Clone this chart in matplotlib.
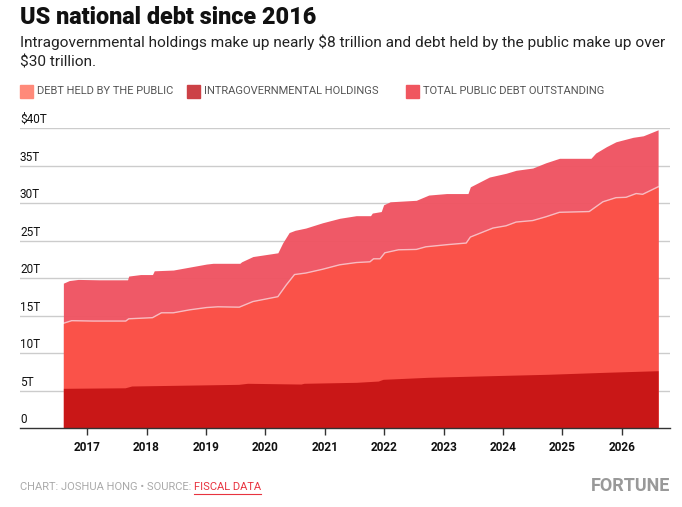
import matplotlib
matplotlib.use("Agg")
import matplotlib.pyplot as plt
import matplotlib.transforms as mtransforms

# dates as decimal years, values in trillions of dollars
total_dates = [2016.60, 2016.70, 2016.85, 2017.20, 2017.68, 2017.70, 2017.90, 2018.10, 2018.13,
               2018.45, 2018.73, 2019.01, 2019.12, 2019.57, 2019.60, 2019.79, 2020.21, 2020.29,
               2020.40, 2020.50, 2020.68, 2020.96, 2021.25, 2021.53, 2021.77, 2021.80, 2021.95,
               2021.99, 2022.10, 2022.54, 2022.75, 2023.05, 2023.41, 2023.45, 2023.77, 2024.05,
               2024.22, 2024.50, 2024.72, 2024.95, 2025.48, 2025.56, 2025.74, 2025.90, 2026.19,
               2026.36, 2026.61]
total_debt = [19.35, 19.7, 19.85, 19.8, 19.8, 20.3, 20.5, 20.5, 21.0,
              21.1, 21.5, 21.9, 22.0, 22.0, 22.2, 22.9, 23.4, 24.7,
              26.1, 26.4, 26.7, 27.4, 28.0, 28.35, 28.35, 28.7, 28.9,
              29.8, 30.2, 30.4, 31.1, 31.3, 31.3, 32.2, 33.5, 34.0,
              34.4, 34.7, 35.4, 36.0, 36.0, 36.7, 37.55, 38.2, 38.8,
              39.0, 39.8]

public_dates = [2016.60, 2016.74, 2017.10, 2017.65, 2017.70, 2018.10, 2018.25, 2018.45, 2018.73,
                2019.01, 2019.20, 2019.56, 2019.79, 2020.21, 2020.35, 2020.49, 2020.68, 2020.96,
                2021.25, 2021.53, 2021.76, 2021.82, 2021.93, 2022.01, 2022.24, 2022.54, 2022.70,
                2023.08, 2023.38, 2023.45, 2023.83, 2024.05, 2024.22, 2024.50, 2024.72, 2024.95,
                2025.45, 2025.68, 2025.90, 2026.07, 2026.24, 2026.35, 2026.61]
public_debt = [14.0, 14.35, 14.3, 14.3, 14.6, 14.75, 15.4, 15.4, 15.8,
               16.1, 16.2, 16.15, 16.9, 17.55, 19.1, 20.5, 20.7, 21.2,
               21.8, 22.1, 22.2, 22.6, 22.6, 23.4, 23.8, 23.85, 24.2,
               24.5, 24.7, 25.5, 26.7, 27.0, 27.5, 27.7, 28.2, 28.8,
               28.9, 30.2, 30.75, 30.8, 31.3, 31.2, 32.2]

intra_dates = [2016.60, 2017.64, 2017.75, 2019.55, 2019.70, 2020.60, 2020.65, 2021.53, 2021.90,
               2021.98, 2022.74, 2023.72, 2024.75, 2025.74, 2026.61]
intra_debt = [5.33, 5.4, 5.64, 5.86, 6.0, 5.9, 6.0, 6.13, 6.3,
              6.53, 6.8, 7.0, 7.2, 7.47, 7.68]

years = list(range(2017, 2027))
y_ticks = [0, 5, 10, 15, 20, 25, 30, 35, 40]
y_labels = ["0", "5T", "10T", "15T", "20T", "25T", "30T", "35T", "$40T"]

legend_labels = ["DEBT HELD BY THE PUBLIC", "INTRAGOVERNMENTAL HOLDINGS", "TOTAL PUBLIC DEBT OUTSTANDING"]
legend_colors = ["#FF8A7A", "#CC4146", "#F0565F"]

W, H = 682, 507
plt.rcParams["font.family"] = ["Roboto", "DejaVu Sans"]

fig = plt.figure(figsize=(W / 100, H / 100), dpi=100)


def px(x, y):
    return x / W, 1 - y / H


# plot area
l, r, t, b = 20, 670, 128.3, 428.3
ax = fig.add_axes([l / W, 1 - b / H, (r - l) / W, (b - t) / H])
ax.set_xlim(2015.87, 2026.81)
ax.set_ylim(0, 40)

ax.fill_between(total_dates, total_debt, 0, color="#EF5462", alpha=0.97, lw=0, zorder=2)
ax.fill_between(public_dates, public_debt, 0, color="#FA5249", lw=0, zorder=3)
ax.plot(public_dates, public_debt, color="white", alpha=0.6, lw=1, zorder=4)
ax.fill_between(intra_dates, intra_debt, 0, color="#C91717", lw=0, zorder=5)

for v in y_ticks[1:]:
    ax.axhline(v, color="#CCCCCC", lw=1, zorder=1)

for s in ["top", "right", "left"]:
    ax.spines[s].set_visible(False)
ax.spines["bottom"].set_color("#333333")
ax.spines["bottom"].set_linewidth(1)
ax.spines["bottom"].set_zorder(6)

ax.set_yticks([])
ax.set_xticks(years)
ax.set_xticklabels([str(y) for y in years], fontsize=8.5, fontweight="bold", color="#111111")
ax.tick_params(axis="x", length=5, width=1, color="#333333", pad=4)

trans = mtransforms.blended_transform_factory(ax.transAxes, ax.transData)
off = mtransforms.ScaledTranslation(0, 2 / 100, fig.dpi_scale_trans)
for v, lab in zip(y_ticks, y_labels):
    ax.text(0, v, lab, transform=trans + off, ha="left", va="bottom", fontsize=8.5,
            color="#111111")

# title and subtitle
fig.text(*px(20, 18), "US national debt since 2016", fontsize=16.8, fontweight=900,
         color="#111111", va="center", ha="left")
fig.text(*px(20, 42), "Intragovernmental holdings make up nearly $8 trillion and debt held by the public make up over",
         fontsize=11.1, color="#222222", va="center", ha="left")
fig.text(*px(20, 62), "$30 trillion.", fontsize=11.1, color="#222222", va="center", ha="left")

# legend
sw_x = [20, 187, 406]
for x0, lab, c in zip(sw_x, legend_labels, legend_colors):
    fig.patches.append(plt.Rectangle(px(x0, 98), 13 / W, 13 / H, transform=fig.transFigure,
                                     color=c, figure=fig))
    fig.text(*px(x0 + 17, 91), lab, fontsize=8, color="#555555", va="center", ha="left")

# footer
src = fig.text(*px(20, 487), "CHART: JOSHUA HONG \u2022 SOURCE: ", fontsize=8, color="#AAAAAA",
               va="center", ha="left")
fig.canvas.draw()
bb = src.get_window_extent()
link = fig.text(bb.x1 / W, 1 - 487 / H, "FISCAL DATA", fontsize=8, color="#E8333F",
                va="center", ha="left")
fig.canvas.draw()
lb = link.get_window_extent()
fig.add_artist(plt.Line2D([lb.x0 / W, lb.x1 / W], [1 - 494 / H, 1 - 494 / H],
                          color="#E8333F", lw=0.8))
fig.text(*px(670, 486), "FORTUNE", fontsize=13, fontweight="bold", color="#999999",
         va="center", ha="right")

fig.savefig("out.png", dpi=100, facecolor="white")
